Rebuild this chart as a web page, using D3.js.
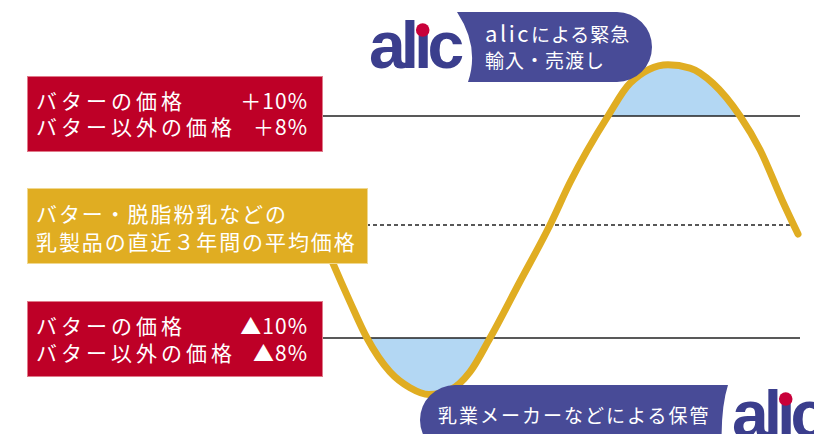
<!DOCTYPE html>
<html>
<head>
<meta charset="utf-8">
<script src="https://cdn.jsdelivr.net/npm/d3@7"></script>
<style>
  body { margin: 0; background: #fff; }
  svg { display: block; }
  .jp { font-family: "Noto Sans CJK JP", "Noto Sans", sans-serif; }
</style>
</head>
<body>
<svg id="chart" width="814" height="434"></svg>
<script>
// price path (t = horizontal position, pct = deviation from the 3-year average)
const curveT = [3, 13, 30, 47, 70, 90, 109, 130, 150, 170, 200, 230, 250, 288, 310, 348, 370, 393, 420, 440, 462, 478];
const curvePct = [-1.3, -3.4, -6.8, -10, -13.0, -14.4, -15.0, -14.6, -13.0, -10, -5.0, 0, 3.9, 10, 13.0, 14.7, 14.4, 13.0, 10, 6.9, 2.3, -0.8];

// reference levels
const upperLevel = 10;
const avgLevel = 0;
const lowerLevel = -10;

// label texts
const upperLabels = ["バターの価格", "バター以外の価格"];
const upperValues = ["＋10%", "＋8%"];
const lowerLabels = ["バターの価格", "バター以外の価格"];
const lowerValues = ["▲10%", "▲8%"];
const avgLabels = ["バター・脱脂粉乳などの", "乳製品の直近３年間の平均価格"];
const topCallout = ["alic", "による緊急", "輸入・売渡し"];
const bottomCallout = "乳業メーカーなどによる保管";

const W = 814, H = 434;
const RED = "#be0027", GOLD = "#e0ad22", NAVY = "#484b97", LOGO = "#3b3e8d", BLUE = "#b3d7f3";

const svg = d3.select("#chart");

const x = d3.scaleLinear().domain([0, 480]).range([320, 800]);
const y = d3.scaleLinear().domain([lowerLevel, avgLevel, upperLevel]).range([338, 225, 116]);

const pts = curveT.map((t, i) => ({ t, v: curvePct[i] }));

const line = d3.line().x(d => x(d.t)).y(d => y(d.v)).curve(d3.curveMonotoneX);

// clip regions for the two shaded areas
const defs = svg.append("defs");
defs.append("clipPath").attr("id", "clip-top")
  .append("rect").attr("x", 0).attr("y", 0).attr("width", W).attr("height", y(upperLevel));
defs.append("clipPath").attr("id", "clip-bot")
  .append("rect").attr("x", 0).attr("y", y(lowerLevel)).attr("width", W).attr("height", H);

svg.append("path")
  .datum(pts)
  .attr("clip-path", "url(#clip-top)")
  .attr("fill", BLUE)
  .attr("d", d3.area().x(d => x(d.t)).y0(y(upperLevel)).y1(d => y(d.v)).curve(d3.curveMonotoneX));

svg.append("path")
  .datum(pts)
  .attr("clip-path", "url(#clip-bot)")
  .attr("fill", BLUE)
  .attr("d", d3.area().x(d => x(d.t)).y0(y(lowerLevel)).y1(d => y(d.v)).curve(d3.curveMonotoneX));

// reference lines
[upperLevel, lowerLevel].forEach(lv => {
  svg.append("line")
    .attr("x1", 322).attr("x2", 800)
    .attr("y1", y(lv)).attr("y2", y(lv))
    .attr("stroke", "#222").attr("stroke-width", 1.5);
});
svg.append("line")
  .attr("x1", 366).attr("x2", 800)
  .attr("y1", y(avgLevel)).attr("y2", y(avgLevel))
  .attr("stroke", "#222").attr("stroke-width", 1.4)
  .attr("stroke-dasharray", "4,3");

// the price curve
svg.append("path")
  .datum(pts)
  .attr("fill", "none")
  .attr("stroke", GOLD)
  .attr("stroke-width", 7)
  .attr("stroke-linecap", "round")
  .attr("d", line);

// label boxes
function box(x0, y0, w, h, fill, border) {
  svg.append("rect")
    .attr("x", x0).attr("y", y0).attr("width", w).attr("height", h)
    .attr("fill", fill).attr("stroke", border).attr("stroke-width", 1);
}

// one <text> per column, lines as tspans
function multiline(lines, x0, ys, opts) {
  const t = svg.append("text").attr("class", "jp")
    .attr("fill", "#fff")
    .attr("font-size", opts.size).attr("font-weight", 400)
    .attr("letter-spacing", opts.spacing)
    .attr("text-anchor", opts.anchor || "start");
  lines.forEach((s, i) => {
    t.append("tspan").attr("x", x0).attr("y", ys[i]).text(s);
  });
  return t;
}

box(27.5, 76.5, 295, 75, RED, "#e07a8a");
multiline(upperLabels, 36, [109, 135], { size: 21, spacing: 4 });
multiline(upperValues, 308, [109, 135], { size: 21, spacing: 1, anchor: "end" });

box(27.5, 188.5, 340, 75, GOLD, "#f0d890");
multiline(avgLabels, 36, [222, 250], { size: 21, spacing: 1.9 });

box(27.5, 301.5, 295, 75, RED, "#e07a8a");
multiline(lowerLabels, 36, [334, 361], { size: 21, spacing: 4 });
multiline(lowerValues, 308, [334, 361], { size: 21, spacing: 1, anchor: "end" });

// logo helper
function logo(x0, base) {
  const t = svg.append("text")
    .attr("x", x0).attr("y", base)
    .attr("font-family", "Liberation Sans, Arial, sans-serif")
    .attr("font-weight", 700).attr("font-size", 66)
    .attr("letter-spacing", -5)
    .attr("fill", LOGO)
    .text("al\u0131c");
  const ext = t.node().getExtentOfChar(2);
  svg.append("circle")
    .attr("cx", ext.x + ext.width / 2 + 2).attr("cy", base - 38)
    .attr("r", 6.8).attr("fill", "#c8003a");
}

// top callout
svg.append("path")
  .attr("fill", NAVY)
  .attr("d", "M457,12 L617,12 A35,35 0 0 1 617,82 L468,82 Q480,47 457,12 Z");
const tc = svg.append("text").attr("class", "jp")
  .attr("fill", "#fff").attr("font-size", 19).attr("font-weight", 400);
tc.append("tspan").attr("x", 485).attr("y", 42).attr("font-size", 22).attr("letter-spacing", 2.5).text(topCallout[0]);
tc.append("tspan").attr("dx", 0).attr("letter-spacing", 1).text(topCallout[1]);
tc.append("tspan").attr("x", 485).attr("y", 68).attr("letter-spacing", 1).text(topCallout[2]);
logo(369, 68);

// bottom callout
svg.append("path")
  .attr("fill", NAVY)
  .attr("d", "M455,385 L728,385 Q720,410 722,455 L455,455 A35,35 0 0 1 455,385 Z");
svg.append("text").attr("class", "jp")
  .attr("x", 438).attr("y", 423)
  .attr("fill", "#fff").attr("font-size", 19).attr("font-weight", 400)
  .attr("letter-spacing", 2)
  .text(bottomCallout);
logo(732, 437);
</script>
</body>
</html>
